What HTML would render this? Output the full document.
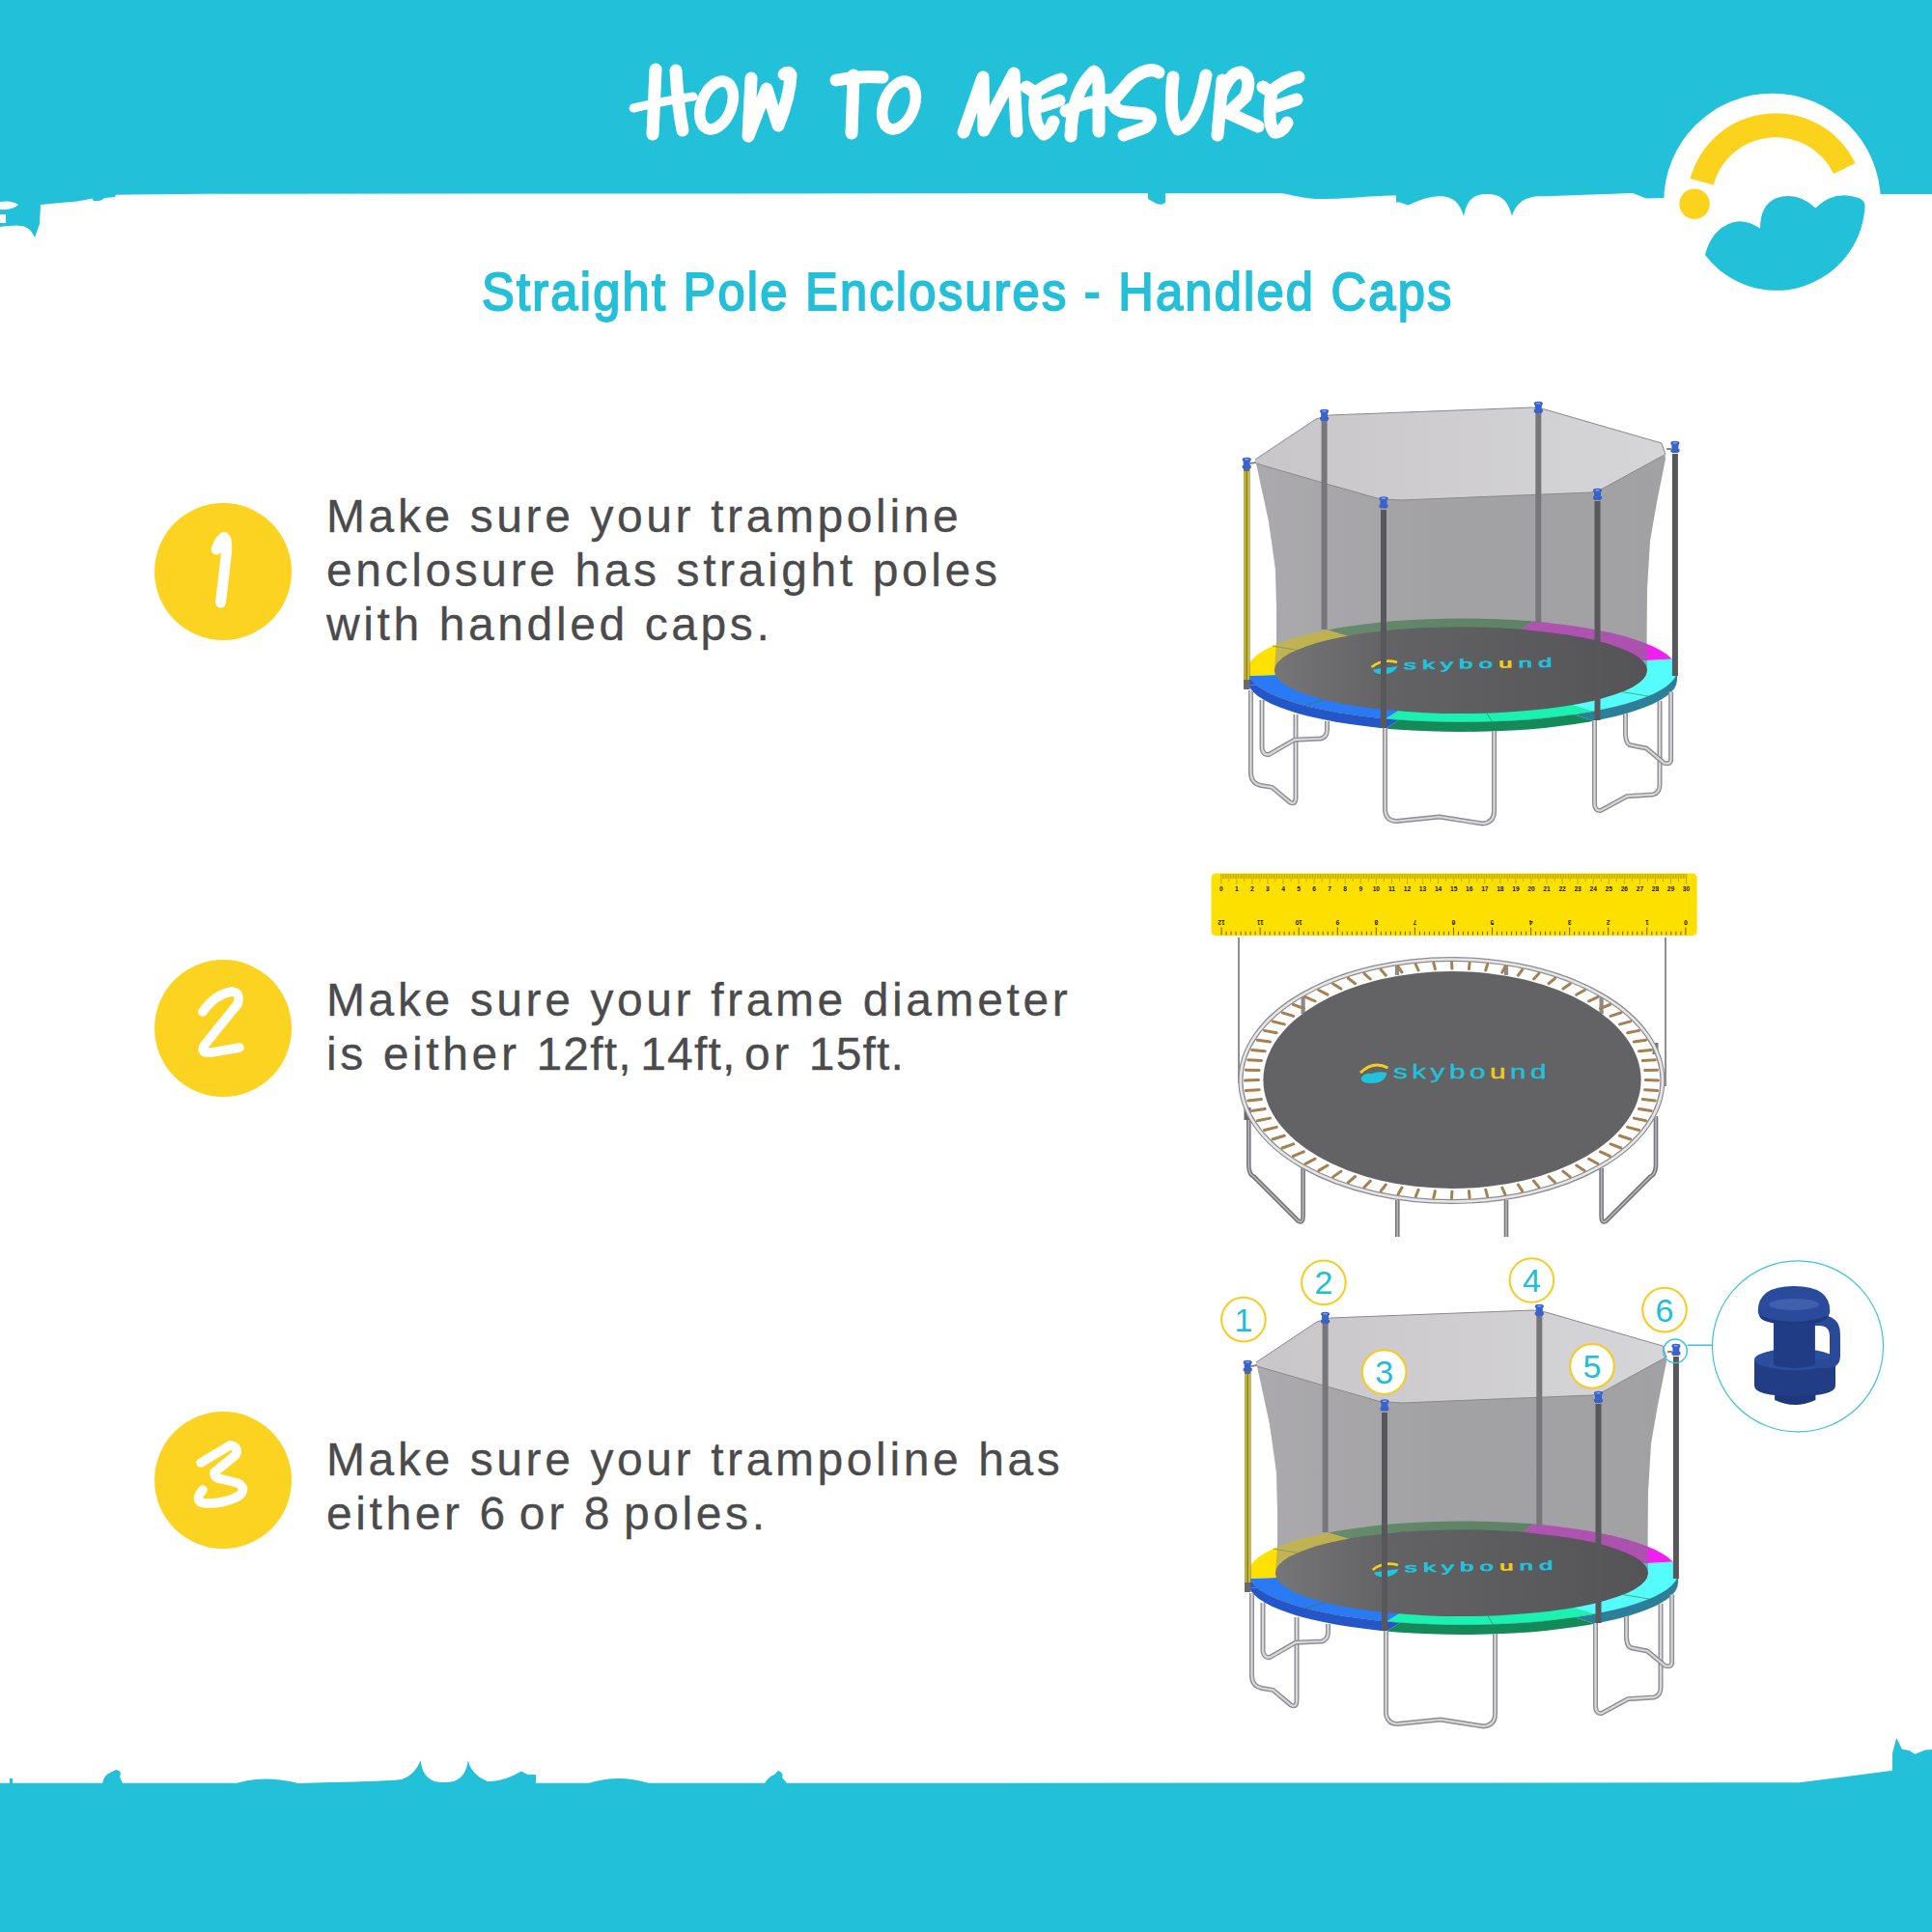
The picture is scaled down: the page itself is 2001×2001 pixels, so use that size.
<!DOCTYPE html>
<html><head><meta charset="utf-8">
<style>
html,body{margin:0;padding:0;}
body{width:2001px;height:2001px;position:relative;overflow:hidden;background:#fff;font-family:"Liberation Sans",sans-serif;}
.abs{position:absolute;}
#sub{left:498.6px;top:267px;font-size:55px;line-height:70px;color:#24BFD8;font-weight:normal;-webkit-text-stroke:1.9px #24BFD8;white-space:nowrap;letter-spacing:2.42px;transform:scaleX(0.92);transform-origin:0 0;}
.para{position:absolute;left:338px;letter-spacing:3.6px;-webkit-text-stroke:0.3px #4b4b4d;font-size:48px;line-height:56px;color:#4b4b4d;white-space:nowrap;}
.n{letter-spacing:1.2px}.w{letter-spacing:-5px}.d{letter-spacing:-2.4px}
.ycirc{position:absolute;left:160px;width:142px;height:142px;border-radius:50%;background:#FCD320;}
</style></head>
<body>
<svg class="abs" style="left:0;top:0" width="2001" height="2001" viewBox="0 0 2001 2001">
  <!-- top band -->
  <path fill="#23C1D9" d="M0 0H2001V201L1948 201L1723 205L1705 205.6L1691 200L1600 203.3C1580 202 1570 210 1566 224C1562 208 1555 201 1540 201C1525 201 1519 208 1516 224C1512 210 1505 203 1490 203.3C1475 204 1465 210 1458 212.6L1450 209.5L1446 209.5L1446 202.5C1410 203 1400 206 1370 206C1350 206 1340 202 1328 200.2L1207 200.2L1207 209Q1205 213 1198 211L1189 206L1189 200.2L215 200.7L138 201.5L120 201.8L119 204L108 205Q104 209 97 208Q95 206 96 205.5L80 208.5Q60 210 42 212L41 232Q38 240 36 246Q33 238 26 235Q20 232 0 235Z"/>
  <path fill="#fff" d="M0 209Q12 207 19 212Q13 218 0 217Z M0 222H6V231H0Z"/>
  <!-- bottom band -->
  <path fill="#23C1D9" d="M106 1847 Q108 1838 114 1836 L120 1833 Q127 1834 124 1840 L127 1847Z M792 1847 Q796 1840 802 1838 L806 1834 Q812 1836 810 1841 L815 1847Z M10 1847 V1842 H13 V1847Z M275 1847 Q277 1841 280 1844Z"/>
  <path fill="#23C1D9" d="M0 2001V1846.8L245 1846.8Q275 1838 309 1847L340 1846Q400 1845 416 1843Q430 1838 435.7 1823Q437 1840 450 1845Q460 1847 470 1845Q483 1840 484.7 1823Q488 1838 505 1845Q520 1846 540 1834.5L546 1837.8L555 1838L555 1846.8L610 1846.8Q640 1837 672 1846.8L1863 1846.3L1906.7 1840.8L1960 1833.8L1960 1815.8L1964.2 1800L1970 1811.7L1977.5 1812.9L1983.3 1816.7L1994 1812.5L2001 1812V2001Z"/>
</svg>
<svg class="abs" style="left:0;top:0" width="2001" height="240" viewBox="0 0 2001 240">
<g fill="none" stroke="#fff" stroke-width="13" stroke-linecap="round" stroke-linejoin="round">
 <path d="M679 72 L676 139"/>
 <path d="M700 73 Q702 110 707 135"/>
 <path d="M656 112 Q690 104 718 100" stroke-width="9"/>
 <ellipse cx="742" cy="109" rx="15.5" ry="26" stroke-width="11.5" transform="rotate(22 742 109)"/>
 <path d="M778 81 L775 141 L794 92 L806 130 Q818 100 819 78 Q817 73 812 77"/>
 <path d="M866 83 Q890 78 914 80"/>
 <path d="M884 78 L882 138"/>
 <ellipse cx="931" cy="109" rx="15.5" ry="26" stroke-width="11.5" transform="rotate(22 931 109)"/>
 <path d="M998 137 L1018 80 L1019 135 L1050 76 L1053 136"/>
 <path d="M1063 90 L1072 96 Q1088 85 1099 82"/>
 <path d="M1073 96 Q1068 128 1081 139 Q1087 137 1091 126"/>
 <path d="M1079 110 L1097 104"/>
 <path d="M1109 141 Q1110 95 1133 74 Q1138 76 1138 90 L1138 136"/>
 <path d="M1104 115 Q1125 104 1154 103"/>
 <path d="M1200 75 Q1190 68 1172 82 L1153 104 Q1153 115 1166 116 L1186 118 Q1197 122 1186 132 L1164 140"/>
 <path d="M1215 80 Q1210 120 1220 134 Q1240 130 1249 78"/>
 <path d="M1266 83 L1261 140"/>
 <path d="M1266 95 Q1275 74 1286 75 Q1297 80 1290 100 L1272 117 L1303 131"/>
 <path d="M1308 90 L1316 95 Q1332 82 1345 80"/>
 <path d="M1317 95 Q1312 128 1320 137 Q1328 137 1333 127"/>
 <path d="M1322 110 L1343 103"/>
</g>
</svg>
<div id="sub" class="abs">Straight Pole Enclosures - Handled Caps</div>

<div class="ycirc" style="top:521px"></div>
<div class="ycirc" style="top:994px"></div>
<div class="ycirc" style="top:1462px"></div>

<div class="para" style="top:506.5px">Make sure your trampoline<br>enclosure has straight poles<br>with handled caps.</div>
<div class="para" style="top:1007.7px">Make sure your frame diameter<br>is either <span class="n">12ft,</span><span class="w"> </span><span class="n">14ft,</span><span class="w"> </span>or <span class="n">15ft.</span></div>
<div class="para" style="top:1484px">Make sure your trampoline has<br>either <span class="d">6</span> or <span class="d">8</span> poles.</div>

<svg class="abs" style="left:0;top:0" width="2001" height="2001" viewBox="0 0 2001 2001">
<defs><linearGradient id="backg" x1="1300" y1="0" x2="1725" y2="0" gradientUnits="userSpaceOnUse"><stop offset="0" stop-color="#c8c6c9"/><stop offset="1" stop-color="#d6d5d7"/></linearGradient><clipPath id="ringclip"><path fill-rule="evenodd" d="M1737.0 694.2 L1736.3 698.5 L1734.3 702.7 L1730.9 706.8 L1726.1 710.9 L1720.1 714.8 L1712.7 718.7 L1704.2 722.3 L1694.5 725.8 L1683.7 729.2 L1671.8 732.3 L1659.0 735.1 L1645.3 737.7 L1630.8 740.1 L1615.5 742.1 L1599.6 743.9 L1583.3 745.4 L1566.4 746.5 L1549.3 747.3 L1532.0 747.8 L1514.5 748.0 L1497.0 747.8 L1479.7 747.3 L1462.6 746.5 L1445.7 745.4 L1429.4 743.9 L1413.5 742.1 L1398.2 740.1 L1383.7 737.7 L1370.0 735.1 L1357.2 732.3 L1345.3 729.2 L1334.5 725.8 L1324.8 722.3 L1316.3 718.7 L1308.9 714.8 L1302.9 710.9 L1298.1 706.8 L1294.7 702.7 L1292.7 698.5 L1292.0 694.2 L1292.7 690.0 L1294.7 685.8 L1298.1 681.7 L1302.9 677.6 L1308.9 673.7 L1316.3 669.8 L1324.8 666.2 L1334.5 662.7 L1345.3 659.3 L1357.2 656.2 L1370.0 653.4 L1383.7 650.8 L1398.2 648.4 L1413.5 646.4 L1429.4 644.6 L1445.7 643.1 L1462.6 642.0 L1479.7 641.2 L1497.0 640.7 L1514.5 640.5 L1532.0 640.7 L1549.3 641.2 L1566.4 642.0 L1583.3 643.1 L1599.6 644.6 L1615.5 646.4 L1630.8 648.4 L1645.3 650.8 L1659.0 653.4 L1671.8 656.2 L1683.7 659.3 L1694.5 662.7 L1704.2 666.2 L1712.7 669.8 L1720.1 673.7 L1726.1 677.6 L1730.9 681.7 L1734.3 685.8 L1736.3 690.0 L1737.0 694.2 Z M1706.0 694.2 L1705.4 697.8 L1703.6 701.3 L1700.7 704.7 L1696.6 708.1 L1691.3 711.4 L1685.0 714.6 L1677.6 717.6 L1669.1 720.6 L1659.8 723.3 L1649.5 725.9 L1638.3 728.3 L1626.4 730.5 L1613.8 732.4 L1600.6 734.1 L1586.9 735.6 L1572.6 736.8 L1558.1 737.8 L1543.2 738.4 L1528.1 738.9 L1513.0 739.0 L1497.9 738.9 L1482.8 738.4 L1467.9 737.8 L1453.4 736.8 L1439.1 735.6 L1425.4 734.1 L1412.2 732.4 L1399.6 730.5 L1387.7 728.3 L1376.5 725.9 L1366.2 723.3 L1356.9 720.6 L1348.4 717.6 L1341.0 714.6 L1334.7 711.4 L1329.4 708.1 L1325.3 704.7 L1322.4 701.3 L1320.6 697.8 L1320.0 694.2 L1320.6 690.7 L1322.4 687.2 L1325.3 683.8 L1329.4 680.4 L1334.7 677.1 L1341.0 673.9 L1348.4 670.9 L1356.9 667.9 L1366.2 665.2 L1376.5 662.6 L1387.7 660.2 L1399.6 658.0 L1412.2 656.1 L1425.4 654.4 L1439.1 652.9 L1453.4 651.7 L1467.9 650.7 L1482.8 650.1 L1497.9 649.6 L1513.0 649.5 L1528.1 649.6 L1543.2 650.1 L1558.1 650.7 L1572.6 651.7 L1586.9 652.9 L1600.6 654.4 L1613.8 656.1 L1626.4 658.0 L1638.3 660.2 L1649.5 662.6 L1659.8 665.2 L1669.1 667.9 L1677.6 670.9 L1685.0 673.9 L1691.3 677.1 L1696.6 680.4 L1700.7 683.8 L1703.6 687.2 L1705.4 690.7 L1706.0 694.2 Z"/></clipPath><clipPath id="sideclip"><polygon points="1737.0,694.2 1736.3,698.5 1734.3,702.7 1730.9,706.8 1726.1,710.9 1720.1,714.8 1712.7,718.7 1704.2,722.3 1694.5,725.8 1683.7,729.2 1671.8,732.3 1659.0,735.1 1645.3,737.7 1630.8,740.1 1615.5,742.1 1599.6,743.9 1583.3,745.4 1566.4,746.5 1549.3,747.3 1532.0,747.8 1514.5,748.0 1497.0,747.8 1479.7,747.3 1462.6,746.5 1445.7,745.4 1429.4,743.9 1413.5,742.1 1398.2,740.1 1383.7,737.7 1370.0,735.1 1357.2,732.3 1345.3,729.2 1334.5,725.8 1324.8,722.3 1316.3,718.7 1308.9,714.8 1302.9,710.9 1298.1,706.8 1294.7,702.7 1292.7,698.5 1292.0,694.2 1292.0,704.2 1292.7,708.5 1294.7,712.7 1298.1,716.8 1302.9,720.9 1308.9,724.8 1316.3,728.7 1324.8,732.3 1334.5,735.8 1345.3,739.2 1357.2,742.3 1370.0,745.1 1383.7,747.7 1398.2,750.1 1413.5,752.1 1429.4,753.9 1445.7,755.4 1462.6,756.5 1479.7,757.3 1497.0,757.8 1514.5,758.0 1532.0,757.8 1549.3,757.3 1566.4,756.5 1583.3,755.4 1599.6,753.9 1615.5,752.1 1630.8,750.1 1645.3,747.7 1659.0,745.1 1671.8,742.3 1683.7,739.2 1694.5,735.8 1704.2,732.3 1712.7,728.7 1720.1,724.8 1726.1,720.9 1730.9,716.8 1734.3,712.7 1736.3,708.5 1737.0,704.2"/></clipPath><linearGradient id="netg" x1="1300" y1="0" x2="1725" y2="0" gradientUnits="userSpaceOnUse"><stop offset="0" stop-color="#949397" stop-opacity="0.56"/><stop offset="0.45" stop-color="#807f83" stop-opacity="0.56"/><stop offset="1" stop-color="#78777b" stop-opacity="0.56"/></linearGradient><linearGradient id="matg" x1="1320" y1="0" x2="1706" y2="0" gradientUnits="userSpaceOnUse"><stop offset="0" stop-color="#767578"/><stop offset="0.3" stop-color="#636265"/><stop offset="1" stop-color="#545356"/></linearGradient></defs><g id="tramp"><polygon points="1300.0,476.0 1363.0,434.0 1377.0,430.0 1587.0,422.0 1600.0,424.0 1721.0,459.0 1725.0,471.0 1725.0,475.0 1716.0,520.0 1709.0,560.0 1706.0,610.0 1705.5,660.0 1706.0,694.0 1706.0,694.2 1705.4,690.7 1703.6,687.2 1700.7,683.8 1696.6,680.4 1691.3,677.1 1685.0,673.9 1677.6,670.9 1669.1,667.9 1659.8,665.2 1649.5,662.6 1638.3,660.2 1626.4,658.0 1613.8,656.1 1600.6,654.4 1586.9,652.9 1572.6,651.7 1558.1,650.7 1543.2,650.1 1528.1,649.6 1513.0,649.5 1497.9,649.6 1482.8,650.1 1467.9,650.7 1453.4,651.7 1439.1,652.9 1425.4,654.4 1412.2,656.1 1399.6,658.0 1387.7,660.2 1376.5,662.6 1366.2,665.2 1356.9,667.9 1348.4,670.9 1341.0,673.9 1334.7,677.1 1329.4,680.4 1325.3,683.8 1322.4,687.2 1320.6,690.7 1320.0,694.2 1320.0,694.0 1322.0,664.0 1322.0,627.0 1321.0,590.0 1314.0,540.0 1301.0,480.0" fill="url(#backg)"/>
<polygon clip-path="url(#ringclip)" points="1514.5,694.2 2166.2,659.3 2176.9,674.3 2181.7,689.4 2180.6,704.6 2173.7,719.7 2160.9,734.5 2142.3,749.0 2118.3,763.0 2088.8,776.4 2054.3,789.1 2015.1,800.9 1971.4,811.8 1923.6,821.7" fill="#55fcfc"/>
<polygon clip-path="url(#sideclip)" points="1514.5,704.2 2166.2,669.3 2176.9,684.3 2181.7,699.4 2180.6,714.6 2173.7,729.7 2160.9,744.5 2142.3,759.0 2118.3,773.0 2088.8,786.4 2054.3,799.1 2015.1,810.9 1971.4,821.8 1923.6,831.7" fill="#2b7f99"/>
<polygon clip-path="url(#ringclip)" points="1514.5,694.2 1923.6,821.7 1877.2,829.6 1828.0,836.6 1776.7,842.5 1723.4,847.4 1668.5,851.1 1612.6,853.7 1555.9,855.2 1499.0,855.5 1442.1,854.5 1385.8,852.5 1330.4,849.2 1276.4,844.9" fill="#19f2b0"/>
<polygon clip-path="url(#sideclip)" points="1514.5,704.2 1923.6,831.7 1877.2,839.6 1828.0,846.6 1776.7,852.5 1723.4,857.4 1668.5,861.1 1612.6,863.7 1555.9,865.2 1499.0,865.5 1442.1,864.5 1385.8,862.5 1330.4,859.2 1276.4,854.9" fill="#138a58"/>
<polygon clip-path="url(#ringclip)" points="1514.5,694.2 1276.4,844.9 1220.2,839.0 1166.6,831.9 1115.8,823.6 1068.4,814.2 1024.8,803.8 985.3,792.5 950.2,780.4 919.9,767.5 894.6,754.1 874.5,740.1 859.8,725.7 850.7,711.1" fill="#2a7af5"/>
<polygon clip-path="url(#sideclip)" points="1514.5,704.2 1276.4,854.9 1220.2,849.0 1166.6,841.9 1115.8,833.6 1068.4,824.2 1024.8,813.8 985.3,802.5 950.2,790.4 919.9,777.5 894.6,764.1 874.5,750.1 859.8,735.7 850.7,721.1" fill="#2456c8"/>
<polygon clip-path="url(#ringclip)" points="1514.5,694.2 850.7,711.1 847.2,697.7 848.3,684.3 854.0,671.0 864.3,657.8 879.1,644.9 898.3,632.3 921.7,620.1 949.3,608.5 980.7,597.4 1015.9,587.1 1054.5,577.4 1096.2,568.6" fill="#ffe100"/>
<polygon clip-path="url(#sideclip)" points="1514.5,704.2 850.7,721.1 847.2,707.7 848.3,694.3 854.0,681.0 864.3,667.8 879.1,654.9 898.3,642.3 921.7,630.1 949.3,618.5 980.7,607.4 1015.9,597.1 1054.5,587.4 1096.2,578.6" fill="#2456c8"/>
<polygon clip-path="url(#ringclip)" points="1514.5,694.2 1096.2,568.6 1141.6,560.5 1189.7,553.4 1240.1,547.3 1292.4,542.2 1346.3,538.2 1401.5,535.3 1457.4,533.6 1513.7,533.0 1570.1,533.6 1626.0,535.3 1681.2,538.1 1735.1,542.1" fill="#3a8a45"/>
<polygon clip-path="url(#sideclip)" points="1514.5,704.2 1096.2,578.6 1141.6,570.5 1189.7,563.4 1240.1,557.3 1292.4,552.2 1346.3,548.2 1401.5,545.3 1457.4,543.6 1513.7,543.0 1570.1,543.6 1626.0,545.3 1681.2,548.1 1735.1,552.1" fill="#2a6a35"/>
<polygon clip-path="url(#ringclip)" points="1514.5,694.2 1735.1,542.1 1787.6,547.1 1838.1,553.2 1886.3,560.3 1931.8,568.4 1974.4,577.4 2013.7,587.2 2049.3,597.8 2081.2,609.0 2109.0,620.9 2132.5,633.3 2151.6,646.2 2166.2,659.3" fill="#f020f0"/>
<polygon clip-path="url(#sideclip)" points="1514.5,704.2 1735.1,552.1 1787.6,557.1 1838.1,563.2 1886.3,570.3 1931.8,578.4 1974.4,587.4 2013.7,597.2 2049.3,607.8 2081.2,619.0 2109.0,630.9 2132.5,643.3 2151.6,656.2 2166.2,669.3" fill="#a010a0"/>
<line x1="1351.0" y1="730.7" x2="1371.2" y2="724.6" stroke="#3a7a3a" stroke-width="1" opacity="0.6"/>
<line x1="1545.5" y1="747.5" x2="1539.9" y2="738.6" stroke="#3a7a3a" stroke-width="1" opacity="0.6"/>
<line x1="1707.2" y1="721.1" x2="1680.1" y2="716.6" stroke="#3a7a3a" stroke-width="1" opacity="0.6"/>
<line x1="1669.1" y1="655.6" x2="1647.1" y2="662.1" stroke="#3a7a3a" stroke-width="1" opacity="0.6"/>
<line x1="1318.0" y1="669.0" x2="1342.6" y2="673.2" stroke="#3a7a3a" stroke-width="1" opacity="0.6"/>
<path d="M1737.0 694.2 L1736.3 698.5 L1734.3 702.7 L1730.9 706.8 L1726.1 710.9 L1720.1 714.8 L1712.7 718.7 L1704.2 722.3 L1694.5 725.8 L1683.7 729.2 L1671.8 732.3 L1659.0 735.1 L1645.3 737.7 L1630.8 740.1 L1615.5 742.1 L1599.6 743.9 L1583.3 745.4 L1566.4 746.5 L1549.3 747.3 L1532.0 747.8 L1514.5 748.0 L1497.0 747.8 L1479.7 747.3 L1462.6 746.5 L1445.7 745.4 L1429.4 743.9 L1413.5 742.1 L1398.2 740.1 L1383.7 737.7 L1370.0 735.1 L1357.2 732.3 L1345.3 729.2 L1334.5 725.8 L1324.8 722.3 L1316.3 718.7 L1308.9 714.8 L1302.9 710.9 L1298.1 706.8 L1294.7 702.7 L1292.7 698.5 L1292.0 694.2" fill="none" stroke="#1a5a6a" stroke-width="0.8" opacity="0.35"/>
<polygon points="1301.0,480.0 1370.0,500.0 1428.0,516.5 1451.0,518.0 1648.0,510.0 1660.0,506.0 1724.0,471.0 1725.0,475.0 1716.0,520.0 1709.0,560.0 1706.0,610.0 1705.5,660.0 1706.0,694.0 1706.0,694.2 1705.4,690.7 1703.6,687.2 1700.7,683.8 1696.6,680.4 1691.3,677.1 1685.0,673.9 1677.6,670.9 1669.1,667.9 1659.8,665.2 1649.5,662.6 1638.3,660.2 1626.4,658.0 1613.8,656.1 1600.6,654.4 1586.9,652.9 1572.6,651.7 1558.1,650.7 1543.2,650.1 1528.1,649.6 1513.0,649.5 1497.9,649.6 1482.8,650.1 1467.9,650.7 1453.4,651.7 1439.1,652.9 1425.4,654.4 1412.2,656.1 1399.6,658.0 1387.7,660.2 1376.5,662.6 1366.2,665.2 1356.9,667.9 1348.4,670.9 1341.0,673.9 1334.7,677.1 1329.4,680.4 1325.3,683.8 1322.4,687.2 1320.6,690.7 1320.0,694.2 1320.0,694.0 1322.0,664.0 1322.0,627.0 1321.0,590.0 1314.0,540.0 1301.0,480.0" fill="url(#netg)"/>
<polyline points="1300.0,476.0 1363.0,434.0 1377.0,430.0 1587.0,422.0 1600.0,424.0 1721.0,459.0 1725.0,471.0" fill="none" stroke="#8a898c" stroke-width="1"/>
<polyline points="1724.0,471.0 1660.0,506.0 1648.0,510.0 1451.0,518.0 1428.0,516.5 1370.0,500.0 1301.0,480.0" fill="none" stroke="#8a898c" stroke-width="1"/>
<ellipse cx="1513" cy="694.25" rx="193" ry="44.75" fill="url(#matg)"/>
<g transform="translate(1419 683) rotate(-1)"><path d="M1.5 8 Q13 -1 28 3.5" fill="none" stroke="#f2cf1e" stroke-width="2.8"/><path d="M3 10.5 Q14 9 28.5 7.5 Q25 15.5 13 15.5 Q4 15.5 3 10.5Z" fill="#1fc3dc"/><text x="23.3" y="14" font-family="Liberation Sans" font-weight="normal" font-size="17" fill="#1fc3dc" stroke="#1fc3dc" stroke-width="0.9" letter-spacing="4.2" transform="scale(1.5 0.78)">skybo<tspan fill="#f0cc20" stroke="#f0cc20">u</tspan>nd</text></g>
<path d="M1295.5 715 V801 Q1296 811.5 1306 813.5 L1317.5 815.4 L1336 831 Q1342 834 1342 826 V740" fill="none" stroke="#8e8d92" stroke-width="5" stroke-linejoin="round"/>
<path d="M1295.5 715 V801 Q1296 811.5 1306 813.5 L1317.5 815.4 L1336 831 Q1342 834 1342 826 V740" fill="none" stroke="#d8d8dc" stroke-width="2.2" stroke-linejoin="round"/>
<path d="M1307 725 V775 Q1308 782 1314 781.7 L1340.8 766.2 L1368 765 Q1374.5 763 1374.5 756 V747" fill="none" stroke="#8e8d92" stroke-width="5" stroke-linejoin="round"/>
<path d="M1307 725 V775 Q1308 782 1314 781.7 L1340.8 766.2 L1368 765 Q1374.5 763 1374.5 756 V747" fill="none" stroke="#d8d8dc" stroke-width="2.2" stroke-linejoin="round"/>
<path d="M1434.5 754 V840 Q1436 850.5 1446.5 850.5 L1490.8 846 L1535.5 853 Q1547.5 852 1547.5 840 V757" fill="none" stroke="#8e8d92" stroke-width="5" stroke-linejoin="round"/>
<path d="M1434.5 754 V840 Q1436 850.5 1446.5 850.5 L1490.8 846 L1535.5 853 Q1547.5 852 1547.5 840 V757" fill="none" stroke="#d8d8dc" stroke-width="2.2" stroke-linejoin="round"/>
<path d="M1651.5 746 V832.6 Q1652 840 1657.6 839.6 L1684.9 824.7 L1712.1 822.9 Q1719 821 1719 813 V726" fill="none" stroke="#8e8d92" stroke-width="5" stroke-linejoin="round"/>
<path d="M1651.5 746 V832.6 Q1652 840 1657.6 839.6 L1684.9 824.7 L1712.1 822.9 Q1719 821 1719 813 V726" fill="none" stroke="#d8d8dc" stroke-width="2.2" stroke-linejoin="round"/>
<path d="M1683.5 739 V760.4 Q1684 771.9 1690 772 L1705.1 775 L1723.6 790.4 Q1730.6 792 1730.6 786.8 V716.4" fill="none" stroke="#8e8d92" stroke-width="5" stroke-linejoin="round"/>
<path d="M1683.5 739 V760.4 Q1684 771.9 1690 772 L1705.1 775 L1723.6 790.4 Q1730.6 792 1730.6 786.8 V716.4" fill="none" stroke="#d8d8dc" stroke-width="2.2" stroke-linejoin="round"/>
<rect x="1368.6" y="436.0" width="6.0" height="216.0" fill="#77767a"/>
<rect x="1590.3" y="428.0" width="6.0" height="217.0" fill="#77767a"/>
<g fill="#3a63c9"><ellipse cx="1371.6" cy="426.0" rx="4.6" ry="2.2"/><rect x="1368.1" y="426.0" width="7" height="10"/><rect x="1367.1" y="432.0" width="9" height="3"/></g><rect x="1369.6" y="425.0" width="4" height="1.5" fill="#7fa0ff"/>
<g fill="#3a63c9"><ellipse cx="1593.3" cy="418.0" rx="4.6" ry="2.2"/><rect x="1589.8" y="418.0" width="7" height="10"/><rect x="1588.8" y="424.0" width="9" height="3"/></g><rect x="1591.3" y="417.0" width="4" height="1.5" fill="#7fa0ff"/>
<rect x="1288.0" y="486.0" width="6.5" height="228.0" fill="#6a6a6a"/>
<rect x="1288.2" y="488" width="6" height="216" fill="#c9b93e"/>
<rect x="1290.5" y="488" width="1.4" height="216" fill="#8a7d20"/>
<g fill="#3a63c9"><ellipse cx="1291.2" cy="476.0" rx="4.6" ry="2.2"/><rect x="1287.7" y="476.0" width="7" height="10"/><rect x="1286.7" y="482.0" width="9" height="3"/></g><rect x="1289.2" y="475.0" width="4" height="1.5" fill="#7fa0ff"/>
<line x1="1295" y1="480" x2="1301" y2="479" stroke="#888" stroke-width="2"/>
<rect x="1430.0" y="528.0" width="6.0" height="226.0" fill="#58575b"/>
<rect x="1651.5" y="519.0" width="6.0" height="227.0" fill="#58575b"/>
<rect x="1731.9" y="470.0" width="6.0" height="230.0" fill="#58575b"/>
<g fill="#3a63c9"><ellipse cx="1433.0" cy="516.5" rx="4.6" ry="2.2"/><rect x="1429.5" y="516.5" width="7" height="10"/><rect x="1428.5" y="522.5" width="9" height="3"/></g><rect x="1431.0" y="515.5" width="4" height="1.5" fill="#7fa0ff"/>
<g fill="#3a63c9"><ellipse cx="1654.5" cy="508.0" rx="4.6" ry="2.2"/><rect x="1651.0" y="508.0" width="7" height="10"/><rect x="1650.0" y="514.0" width="9" height="3"/></g><rect x="1652.5" y="507.0" width="4" height="1.5" fill="#7fa0ff"/>
<g fill="#3a63c9"><ellipse cx="1734.9" cy="459.0" rx="4.6" ry="2.2"/><rect x="1731.4" y="459.0" width="7" height="10"/><rect x="1730.4" y="465.0" width="9" height="3"/></g><rect x="1732.9" y="458.0" width="4" height="1.5" fill="#7fa0ff"/>
<line x1="1726" y1="465" x2="1731" y2="465" stroke="#888" stroke-width="2"/></g>
<g transform="translate(1 935)"><polygon points="1300.0,476.0 1363.0,434.0 1377.0,430.0 1587.0,422.0 1600.0,424.0 1721.0,459.0 1725.0,471.0 1725.0,475.0 1716.0,520.0 1709.0,560.0 1706.0,610.0 1705.5,660.0 1706.0,694.0 1706.0,694.2 1705.4,690.7 1703.6,687.2 1700.7,683.8 1696.6,680.4 1691.3,677.1 1685.0,673.9 1677.6,670.9 1669.1,667.9 1659.8,665.2 1649.5,662.6 1638.3,660.2 1626.4,658.0 1613.8,656.1 1600.6,654.4 1586.9,652.9 1572.6,651.7 1558.1,650.7 1543.2,650.1 1528.1,649.6 1513.0,649.5 1497.9,649.6 1482.8,650.1 1467.9,650.7 1453.4,651.7 1439.1,652.9 1425.4,654.4 1412.2,656.1 1399.6,658.0 1387.7,660.2 1376.5,662.6 1366.2,665.2 1356.9,667.9 1348.4,670.9 1341.0,673.9 1334.7,677.1 1329.4,680.4 1325.3,683.8 1322.4,687.2 1320.6,690.7 1320.0,694.2 1320.0,694.0 1322.0,664.0 1322.0,627.0 1321.0,590.0 1314.0,540.0 1301.0,480.0" fill="url(#backg)"/>
<polygon clip-path="url(#ringclip)" points="1514.5,694.2 2166.2,659.3 2176.9,674.3 2181.7,689.4 2180.6,704.6 2173.7,719.7 2160.9,734.5 2142.3,749.0 2118.3,763.0 2088.8,776.4 2054.3,789.1 2015.1,800.9 1971.4,811.8 1923.6,821.7" fill="#55fcfc"/>
<polygon clip-path="url(#sideclip)" points="1514.5,704.2 2166.2,669.3 2176.9,684.3 2181.7,699.4 2180.6,714.6 2173.7,729.7 2160.9,744.5 2142.3,759.0 2118.3,773.0 2088.8,786.4 2054.3,799.1 2015.1,810.9 1971.4,821.8 1923.6,831.7" fill="#2b7f99"/>
<polygon clip-path="url(#ringclip)" points="1514.5,694.2 1923.6,821.7 1877.2,829.6 1828.0,836.6 1776.7,842.5 1723.4,847.4 1668.5,851.1 1612.6,853.7 1555.9,855.2 1499.0,855.5 1442.1,854.5 1385.8,852.5 1330.4,849.2 1276.4,844.9" fill="#19f2b0"/>
<polygon clip-path="url(#sideclip)" points="1514.5,704.2 1923.6,831.7 1877.2,839.6 1828.0,846.6 1776.7,852.5 1723.4,857.4 1668.5,861.1 1612.6,863.7 1555.9,865.2 1499.0,865.5 1442.1,864.5 1385.8,862.5 1330.4,859.2 1276.4,854.9" fill="#138a58"/>
<polygon clip-path="url(#ringclip)" points="1514.5,694.2 1276.4,844.9 1220.2,839.0 1166.6,831.9 1115.8,823.6 1068.4,814.2 1024.8,803.8 985.3,792.5 950.2,780.4 919.9,767.5 894.6,754.1 874.5,740.1 859.8,725.7 850.7,711.1" fill="#2a7af5"/>
<polygon clip-path="url(#sideclip)" points="1514.5,704.2 1276.4,854.9 1220.2,849.0 1166.6,841.9 1115.8,833.6 1068.4,824.2 1024.8,813.8 985.3,802.5 950.2,790.4 919.9,777.5 894.6,764.1 874.5,750.1 859.8,735.7 850.7,721.1" fill="#2456c8"/>
<polygon clip-path="url(#ringclip)" points="1514.5,694.2 850.7,711.1 847.2,697.7 848.3,684.3 854.0,671.0 864.3,657.8 879.1,644.9 898.3,632.3 921.7,620.1 949.3,608.5 980.7,597.4 1015.9,587.1 1054.5,577.4 1096.2,568.6" fill="#ffe100"/>
<polygon clip-path="url(#sideclip)" points="1514.5,704.2 850.7,721.1 847.2,707.7 848.3,694.3 854.0,681.0 864.3,667.8 879.1,654.9 898.3,642.3 921.7,630.1 949.3,618.5 980.7,607.4 1015.9,597.1 1054.5,587.4 1096.2,578.6" fill="#2456c8"/>
<polygon clip-path="url(#ringclip)" points="1514.5,694.2 1096.2,568.6 1141.6,560.5 1189.7,553.4 1240.1,547.3 1292.4,542.2 1346.3,538.2 1401.5,535.3 1457.4,533.6 1513.7,533.0 1570.1,533.6 1626.0,535.3 1681.2,538.1 1735.1,542.1" fill="#3a8a45"/>
<polygon clip-path="url(#sideclip)" points="1514.5,704.2 1096.2,578.6 1141.6,570.5 1189.7,563.4 1240.1,557.3 1292.4,552.2 1346.3,548.2 1401.5,545.3 1457.4,543.6 1513.7,543.0 1570.1,543.6 1626.0,545.3 1681.2,548.1 1735.1,552.1" fill="#2a6a35"/>
<polygon clip-path="url(#ringclip)" points="1514.5,694.2 1735.1,542.1 1787.6,547.1 1838.1,553.2 1886.3,560.3 1931.8,568.4 1974.4,577.4 2013.7,587.2 2049.3,597.8 2081.2,609.0 2109.0,620.9 2132.5,633.3 2151.6,646.2 2166.2,659.3" fill="#f020f0"/>
<polygon clip-path="url(#sideclip)" points="1514.5,704.2 1735.1,552.1 1787.6,557.1 1838.1,563.2 1886.3,570.3 1931.8,578.4 1974.4,587.4 2013.7,597.2 2049.3,607.8 2081.2,619.0 2109.0,630.9 2132.5,643.3 2151.6,656.2 2166.2,669.3" fill="#a010a0"/>
<line x1="1351.0" y1="730.7" x2="1371.2" y2="724.6" stroke="#3a7a3a" stroke-width="1" opacity="0.6"/>
<line x1="1545.5" y1="747.5" x2="1539.9" y2="738.6" stroke="#3a7a3a" stroke-width="1" opacity="0.6"/>
<line x1="1707.2" y1="721.1" x2="1680.1" y2="716.6" stroke="#3a7a3a" stroke-width="1" opacity="0.6"/>
<line x1="1669.1" y1="655.6" x2="1647.1" y2="662.1" stroke="#3a7a3a" stroke-width="1" opacity="0.6"/>
<line x1="1318.0" y1="669.0" x2="1342.6" y2="673.2" stroke="#3a7a3a" stroke-width="1" opacity="0.6"/>
<path d="M1737.0 694.2 L1736.3 698.5 L1734.3 702.7 L1730.9 706.8 L1726.1 710.9 L1720.1 714.8 L1712.7 718.7 L1704.2 722.3 L1694.5 725.8 L1683.7 729.2 L1671.8 732.3 L1659.0 735.1 L1645.3 737.7 L1630.8 740.1 L1615.5 742.1 L1599.6 743.9 L1583.3 745.4 L1566.4 746.5 L1549.3 747.3 L1532.0 747.8 L1514.5 748.0 L1497.0 747.8 L1479.7 747.3 L1462.6 746.5 L1445.7 745.4 L1429.4 743.9 L1413.5 742.1 L1398.2 740.1 L1383.7 737.7 L1370.0 735.1 L1357.2 732.3 L1345.3 729.2 L1334.5 725.8 L1324.8 722.3 L1316.3 718.7 L1308.9 714.8 L1302.9 710.9 L1298.1 706.8 L1294.7 702.7 L1292.7 698.5 L1292.0 694.2" fill="none" stroke="#1a5a6a" stroke-width="0.8" opacity="0.35"/>
<polygon points="1301.0,480.0 1370.0,500.0 1428.0,516.5 1451.0,518.0 1648.0,510.0 1660.0,506.0 1724.0,471.0 1725.0,475.0 1716.0,520.0 1709.0,560.0 1706.0,610.0 1705.5,660.0 1706.0,694.0 1706.0,694.2 1705.4,690.7 1703.6,687.2 1700.7,683.8 1696.6,680.4 1691.3,677.1 1685.0,673.9 1677.6,670.9 1669.1,667.9 1659.8,665.2 1649.5,662.6 1638.3,660.2 1626.4,658.0 1613.8,656.1 1600.6,654.4 1586.9,652.9 1572.6,651.7 1558.1,650.7 1543.2,650.1 1528.1,649.6 1513.0,649.5 1497.9,649.6 1482.8,650.1 1467.9,650.7 1453.4,651.7 1439.1,652.9 1425.4,654.4 1412.2,656.1 1399.6,658.0 1387.7,660.2 1376.5,662.6 1366.2,665.2 1356.9,667.9 1348.4,670.9 1341.0,673.9 1334.7,677.1 1329.4,680.4 1325.3,683.8 1322.4,687.2 1320.6,690.7 1320.0,694.2 1320.0,694.0 1322.0,664.0 1322.0,627.0 1321.0,590.0 1314.0,540.0 1301.0,480.0" fill="url(#netg)"/>
<polyline points="1300.0,476.0 1363.0,434.0 1377.0,430.0 1587.0,422.0 1600.0,424.0 1721.0,459.0 1725.0,471.0" fill="none" stroke="#8a898c" stroke-width="1"/>
<polyline points="1724.0,471.0 1660.0,506.0 1648.0,510.0 1451.0,518.0 1428.0,516.5 1370.0,500.0 1301.0,480.0" fill="none" stroke="#8a898c" stroke-width="1"/>
<ellipse cx="1513" cy="694.25" rx="193" ry="44.75" fill="url(#matg)"/>
<g transform="translate(1419 683) rotate(-1)"><path d="M1.5 8 Q13 -1 28 3.5" fill="none" stroke="#f2cf1e" stroke-width="2.8"/><path d="M3 10.5 Q14 9 28.5 7.5 Q25 15.5 13 15.5 Q4 15.5 3 10.5Z" fill="#1fc3dc"/><text x="23.3" y="14" font-family="Liberation Sans" font-weight="normal" font-size="17" fill="#1fc3dc" stroke="#1fc3dc" stroke-width="0.9" letter-spacing="4.2" transform="scale(1.5 0.78)">skybo<tspan fill="#f0cc20" stroke="#f0cc20">u</tspan>nd</text></g>
<path d="M1295.5 715 V801 Q1296 811.5 1306 813.5 L1317.5 815.4 L1336 831 Q1342 834 1342 826 V740" fill="none" stroke="#8e8d92" stroke-width="5" stroke-linejoin="round"/>
<path d="M1295.5 715 V801 Q1296 811.5 1306 813.5 L1317.5 815.4 L1336 831 Q1342 834 1342 826 V740" fill="none" stroke="#d8d8dc" stroke-width="2.2" stroke-linejoin="round"/>
<path d="M1307 725 V775 Q1308 782 1314 781.7 L1340.8 766.2 L1368 765 Q1374.5 763 1374.5 756 V747" fill="none" stroke="#8e8d92" stroke-width="5" stroke-linejoin="round"/>
<path d="M1307 725 V775 Q1308 782 1314 781.7 L1340.8 766.2 L1368 765 Q1374.5 763 1374.5 756 V747" fill="none" stroke="#d8d8dc" stroke-width="2.2" stroke-linejoin="round"/>
<path d="M1434.5 754 V840 Q1436 850.5 1446.5 850.5 L1490.8 846 L1535.5 853 Q1547.5 852 1547.5 840 V757" fill="none" stroke="#8e8d92" stroke-width="5" stroke-linejoin="round"/>
<path d="M1434.5 754 V840 Q1436 850.5 1446.5 850.5 L1490.8 846 L1535.5 853 Q1547.5 852 1547.5 840 V757" fill="none" stroke="#d8d8dc" stroke-width="2.2" stroke-linejoin="round"/>
<path d="M1651.5 746 V832.6 Q1652 840 1657.6 839.6 L1684.9 824.7 L1712.1 822.9 Q1719 821 1719 813 V726" fill="none" stroke="#8e8d92" stroke-width="5" stroke-linejoin="round"/>
<path d="M1651.5 746 V832.6 Q1652 840 1657.6 839.6 L1684.9 824.7 L1712.1 822.9 Q1719 821 1719 813 V726" fill="none" stroke="#d8d8dc" stroke-width="2.2" stroke-linejoin="round"/>
<path d="M1683.5 739 V760.4 Q1684 771.9 1690 772 L1705.1 775 L1723.6 790.4 Q1730.6 792 1730.6 786.8 V716.4" fill="none" stroke="#8e8d92" stroke-width="5" stroke-linejoin="round"/>
<path d="M1683.5 739 V760.4 Q1684 771.9 1690 772 L1705.1 775 L1723.6 790.4 Q1730.6 792 1730.6 786.8 V716.4" fill="none" stroke="#d8d8dc" stroke-width="2.2" stroke-linejoin="round"/>
<rect x="1368.6" y="436.0" width="6.0" height="216.0" fill="#77767a"/>
<rect x="1590.3" y="428.0" width="6.0" height="217.0" fill="#77767a"/>
<g fill="#3a63c9"><ellipse cx="1371.6" cy="426.0" rx="4.6" ry="2.2"/><rect x="1368.1" y="426.0" width="7" height="10"/><rect x="1367.1" y="432.0" width="9" height="3"/></g><rect x="1369.6" y="425.0" width="4" height="1.5" fill="#7fa0ff"/>
<g fill="#3a63c9"><ellipse cx="1593.3" cy="418.0" rx="4.6" ry="2.2"/><rect x="1589.8" y="418.0" width="7" height="10"/><rect x="1588.8" y="424.0" width="9" height="3"/></g><rect x="1591.3" y="417.0" width="4" height="1.5" fill="#7fa0ff"/>
<rect x="1288.0" y="486.0" width="6.5" height="228.0" fill="#6a6a6a"/>
<rect x="1288.2" y="488" width="6" height="216" fill="#c9b93e"/>
<rect x="1290.5" y="488" width="1.4" height="216" fill="#8a7d20"/>
<g fill="#3a63c9"><ellipse cx="1291.2" cy="476.0" rx="4.6" ry="2.2"/><rect x="1287.7" y="476.0" width="7" height="10"/><rect x="1286.7" y="482.0" width="9" height="3"/></g><rect x="1289.2" y="475.0" width="4" height="1.5" fill="#7fa0ff"/>
<line x1="1295" y1="480" x2="1301" y2="479" stroke="#888" stroke-width="2"/>
<rect x="1430.0" y="528.0" width="6.0" height="226.0" fill="#58575b"/>
<rect x="1651.5" y="519.0" width="6.0" height="227.0" fill="#58575b"/>
<rect x="1731.9" y="470.0" width="6.0" height="230.0" fill="#58575b"/>
<g fill="#3a63c9"><ellipse cx="1433.0" cy="516.5" rx="4.6" ry="2.2"/><rect x="1429.5" y="516.5" width="7" height="10"/><rect x="1428.5" y="522.5" width="9" height="3"/></g><rect x="1431.0" y="515.5" width="4" height="1.5" fill="#7fa0ff"/>
<g fill="#3a63c9"><ellipse cx="1654.5" cy="508.0" rx="4.6" ry="2.2"/><rect x="1651.0" y="508.0" width="7" height="10"/><rect x="1650.0" y="514.0" width="9" height="3"/></g><rect x="1652.5" y="507.0" width="4" height="1.5" fill="#7fa0ff"/>
<g fill="#3a63c9"><ellipse cx="1734.9" cy="459.0" rx="4.6" ry="2.2"/><rect x="1731.4" y="459.0" width="7" height="10"/><rect x="1730.4" y="465.0" width="9" height="3"/></g><rect x="1732.9" y="458.0" width="4" height="1.5" fill="#7fa0ff"/>
<line x1="1726" y1="465" x2="1731" y2="465" stroke="#888" stroke-width="2"/></g>
<rect x="1254.5" y="904.6" width="503.1" height="64.4" rx="4.5" fill="#fde000"/>
<path d="M1264.75 905.1V915.6M1266.36 905.1V910.1M1267.96 905.1V910.1M1269.57 905.1V910.1M1271.17 905.1V910.1M1272.78 905.1V913.1M1274.39 905.1V910.1M1275.99 905.1V910.1M1277.60 905.1V910.1M1279.20 905.1V910.1M1280.81 905.1V915.6M1282.42 905.1V910.1M1284.02 905.1V910.1M1285.63 905.1V910.1M1287.23 905.1V910.1M1288.84 905.1V913.1M1290.45 905.1V910.1M1292.05 905.1V910.1M1293.66 905.1V910.1M1295.26 905.1V910.1M1296.87 905.1V915.6M1298.48 905.1V910.1M1300.08 905.1V910.1M1301.69 905.1V910.1M1303.29 905.1V910.1M1304.90 905.1V913.1M1306.51 905.1V910.1M1308.11 905.1V910.1M1309.72 905.1V910.1M1311.32 905.1V910.1M1312.93 905.1V915.6M1314.54 905.1V910.1M1316.14 905.1V910.1M1317.75 905.1V910.1M1319.35 905.1V910.1M1320.96 905.1V913.1M1322.57 905.1V910.1M1324.17 905.1V910.1M1325.78 905.1V910.1M1327.38 905.1V910.1M1328.99 905.1V915.6M1330.60 905.1V910.1M1332.20 905.1V910.1M1333.81 905.1V910.1M1335.41 905.1V910.1M1337.02 905.1V913.1M1338.63 905.1V910.1M1340.23 905.1V910.1M1341.84 905.1V910.1M1343.44 905.1V910.1M1345.05 905.1V915.6M1346.66 905.1V910.1M1348.26 905.1V910.1M1349.87 905.1V910.1M1351.47 905.1V910.1M1353.08 905.1V913.1M1354.69 905.1V910.1M1356.29 905.1V910.1M1357.90 905.1V910.1M1359.50 905.1V910.1M1361.11 905.1V915.6M1362.72 905.1V910.1M1364.32 905.1V910.1M1365.93 905.1V910.1M1367.53 905.1V910.1M1369.14 905.1V913.1M1370.75 905.1V910.1M1372.35 905.1V910.1M1373.96 905.1V910.1M1375.56 905.1V910.1M1377.17 905.1V915.6M1378.78 905.1V910.1M1380.38 905.1V910.1M1381.99 905.1V910.1M1383.59 905.1V910.1M1385.20 905.1V913.1M1386.81 905.1V910.1M1388.41 905.1V910.1M1390.02 905.1V910.1M1391.62 905.1V910.1M1393.23 905.1V915.6M1394.84 905.1V910.1M1396.44 905.1V910.1M1398.05 905.1V910.1M1399.65 905.1V910.1M1401.26 905.1V913.1M1402.87 905.1V910.1M1404.47 905.1V910.1M1406.08 905.1V910.1M1407.68 905.1V910.1M1409.29 905.1V915.6M1410.90 905.1V910.1M1412.50 905.1V910.1M1414.11 905.1V910.1M1415.71 905.1V910.1M1417.32 905.1V913.1M1418.93 905.1V910.1M1420.53 905.1V910.1M1422.14 905.1V910.1M1423.74 905.1V910.1M1425.35 905.1V915.6M1426.96 905.1V910.1M1428.56 905.1V910.1M1430.17 905.1V910.1M1431.77 905.1V910.1M1433.38 905.1V913.1M1434.99 905.1V910.1M1436.59 905.1V910.1M1438.20 905.1V910.1M1439.80 905.1V910.1M1441.41 905.1V915.6M1443.02 905.1V910.1M1444.62 905.1V910.1M1446.23 905.1V910.1M1447.83 905.1V910.1M1449.44 905.1V913.1M1451.05 905.1V910.1M1452.65 905.1V910.1M1454.26 905.1V910.1M1455.86 905.1V910.1M1457.47 905.1V915.6M1459.08 905.1V910.1M1460.68 905.1V910.1M1462.29 905.1V910.1M1463.89 905.1V910.1M1465.50 905.1V913.1M1467.11 905.1V910.1M1468.71 905.1V910.1M1470.32 905.1V910.1M1471.92 905.1V910.1M1473.53 905.1V915.6M1475.14 905.1V910.1M1476.74 905.1V910.1M1478.35 905.1V910.1M1479.95 905.1V910.1M1481.56 905.1V913.1M1483.17 905.1V910.1M1484.77 905.1V910.1M1486.38 905.1V910.1M1487.98 905.1V910.1M1489.59 905.1V915.6M1491.20 905.1V910.1M1492.80 905.1V910.1M1494.41 905.1V910.1M1496.01 905.1V910.1M1497.62 905.1V913.1M1499.23 905.1V910.1M1500.83 905.1V910.1M1502.44 905.1V910.1M1504.04 905.1V910.1M1505.65 905.1V915.6M1507.26 905.1V910.1M1508.86 905.1V910.1M1510.47 905.1V910.1M1512.07 905.1V910.1M1513.68 905.1V913.1M1515.29 905.1V910.1M1516.89 905.1V910.1M1518.50 905.1V910.1M1520.10 905.1V910.1M1521.71 905.1V915.6M1523.32 905.1V910.1M1524.92 905.1V910.1M1526.53 905.1V910.1M1528.13 905.1V910.1M1529.74 905.1V913.1M1531.35 905.1V910.1M1532.95 905.1V910.1M1534.56 905.1V910.1M1536.16 905.1V910.1M1537.77 905.1V915.6M1539.38 905.1V910.1M1540.98 905.1V910.1M1542.59 905.1V910.1M1544.19 905.1V910.1M1545.80 905.1V913.1M1547.41 905.1V910.1M1549.01 905.1V910.1M1550.62 905.1V910.1M1552.22 905.1V910.1M1553.83 905.1V915.6M1555.44 905.1V910.1M1557.04 905.1V910.1M1558.65 905.1V910.1M1560.25 905.1V910.1M1561.86 905.1V913.1M1563.47 905.1V910.1M1565.07 905.1V910.1M1566.68 905.1V910.1M1568.28 905.1V910.1M1569.89 905.1V915.6M1571.50 905.1V910.1M1573.10 905.1V910.1M1574.71 905.1V910.1M1576.31 905.1V910.1M1577.92 905.1V913.1M1579.53 905.1V910.1M1581.13 905.1V910.1M1582.74 905.1V910.1M1584.34 905.1V910.1M1585.95 905.1V915.6M1587.56 905.1V910.1M1589.16 905.1V910.1M1590.77 905.1V910.1M1592.37 905.1V910.1M1593.98 905.1V913.1M1595.59 905.1V910.1M1597.19 905.1V910.1M1598.80 905.1V910.1M1600.40 905.1V910.1M1602.01 905.1V915.6M1603.62 905.1V910.1M1605.22 905.1V910.1M1606.83 905.1V910.1M1608.43 905.1V910.1M1610.04 905.1V913.1M1611.65 905.1V910.1M1613.25 905.1V910.1M1614.86 905.1V910.1M1616.46 905.1V910.1M1618.07 905.1V915.6M1619.68 905.1V910.1M1621.28 905.1V910.1M1622.89 905.1V910.1M1624.49 905.1V910.1M1626.10 905.1V913.1M1627.71 905.1V910.1M1629.31 905.1V910.1M1630.92 905.1V910.1M1632.52 905.1V910.1M1634.13 905.1V915.6M1635.74 905.1V910.1M1637.34 905.1V910.1M1638.95 905.1V910.1M1640.55 905.1V910.1M1642.16 905.1V913.1M1643.77 905.1V910.1M1645.37 905.1V910.1M1646.98 905.1V910.1M1648.58 905.1V910.1M1650.19 905.1V915.6M1651.80 905.1V910.1M1653.40 905.1V910.1M1655.01 905.1V910.1M1656.61 905.1V910.1M1658.22 905.1V913.1M1659.83 905.1V910.1M1661.43 905.1V910.1M1663.04 905.1V910.1M1664.64 905.1V910.1M1666.25 905.1V915.6M1667.86 905.1V910.1M1669.46 905.1V910.1M1671.07 905.1V910.1M1672.67 905.1V910.1M1674.28 905.1V913.1M1675.89 905.1V910.1M1677.49 905.1V910.1M1679.10 905.1V910.1M1680.70 905.1V910.1M1682.31 905.1V915.6M1683.92 905.1V910.1M1685.52 905.1V910.1M1687.13 905.1V910.1M1688.73 905.1V910.1M1690.34 905.1V913.1M1691.95 905.1V910.1M1693.55 905.1V910.1M1695.16 905.1V910.1M1696.76 905.1V910.1M1698.37 905.1V915.6M1699.98 905.1V910.1M1701.58 905.1V910.1M1703.19 905.1V910.1M1704.79 905.1V910.1M1706.40 905.1V913.1M1708.01 905.1V910.1M1709.61 905.1V910.1M1711.22 905.1V910.1M1712.82 905.1V910.1M1714.43 905.1V915.6M1716.04 905.1V910.1M1717.64 905.1V910.1M1719.25 905.1V910.1M1720.85 905.1V910.1M1722.46 905.1V913.1M1724.07 905.1V910.1M1725.67 905.1V910.1M1727.28 905.1V910.1M1728.88 905.1V910.1M1730.49 905.1V915.6M1732.10 905.1V910.1M1733.70 905.1V910.1M1735.31 905.1V910.1M1736.91 905.1V910.1M1738.52 905.1V913.1M1740.13 905.1V910.1M1741.73 905.1V910.1M1743.34 905.1V910.1M1744.94 905.1V910.1M1746.55 905.1V915.6" stroke="#6b5d00" stroke-width="0.55" fill="none" opacity="0.75"/>
<g font-family="Liberation Sans" font-weight="bold" font-size="6.6" fill="#1a1600" text-anchor="middle"><text x="1264.8" y="923.3">0</text><text x="1280.8" y="923.3">1</text><text x="1296.9" y="923.3">2</text><text x="1312.9" y="923.3">3</text><text x="1329.0" y="923.3">4</text><text x="1345.0" y="923.3">5</text><text x="1361.1" y="923.3">6</text><text x="1377.2" y="923.3">7</text><text x="1393.2" y="923.3">8</text><text x="1409.3" y="923.3">9</text><text x="1425.3" y="923.3">10</text><text x="1441.4" y="923.3">11</text><text x="1457.5" y="923.3">12</text><text x="1473.5" y="923.3">13</text><text x="1489.6" y="923.3">14</text><text x="1505.7" y="923.3">15</text><text x="1521.7" y="923.3">16</text><text x="1537.8" y="923.3">17</text><text x="1553.8" y="923.3">18</text><text x="1569.9" y="923.3">19</text><text x="1586.0" y="923.3">20</text><text x="1602.0" y="923.3">21</text><text x="1618.1" y="923.3">22</text><text x="1634.1" y="923.3">23</text><text x="1650.2" y="923.3">24</text><text x="1666.2" y="923.3">25</text><text x="1682.3" y="923.3">26</text><text x="1698.4" y="923.3">27</text><text x="1714.4" y="923.3">28</text><text x="1730.5" y="923.3">29</text><text x="1746.5" y="923.3">30</text></g>
<path d="M1265.10 968.5V960.5M1270.11 968.5V964.7M1275.12 968.5V964.7M1280.12 968.5V964.7M1285.13 968.5V964.7M1290.14 968.5V964.7M1295.14 968.5V964.7M1300.15 968.5V964.7M1305.16 968.5V960.5M1310.17 968.5V964.7M1315.17 968.5V964.7M1320.18 968.5V964.7M1325.19 968.5V964.7M1330.20 968.5V964.7M1335.20 968.5V964.7M1340.21 968.5V964.7M1345.22 968.5V960.5M1350.23 968.5V964.7M1355.23 968.5V964.7M1360.24 968.5V964.7M1365.25 968.5V964.7M1370.26 968.5V964.7M1375.26 968.5V964.7M1380.27 968.5V964.7M1385.28 968.5V960.5M1390.29 968.5V964.7M1395.29 968.5V964.7M1400.30 968.5V964.7M1405.31 968.5V964.7M1410.32 968.5V964.7M1415.32 968.5V964.7M1420.33 968.5V964.7M1425.34 968.5V960.5M1430.35 968.5V964.7M1435.36 968.5V964.7M1440.36 968.5V964.7M1445.37 968.5V964.7M1450.38 968.5V964.7M1455.38 968.5V964.7M1460.39 968.5V964.7M1465.40 968.5V960.5M1470.41 968.5V964.7M1475.41 968.5V964.7M1480.42 968.5V964.7M1485.43 968.5V964.7M1490.44 968.5V964.7M1495.44 968.5V964.7M1500.45 968.5V964.7M1505.46 968.5V960.5M1510.47 968.5V964.7M1515.47 968.5V964.7M1520.48 968.5V964.7M1525.49 968.5V964.7M1530.50 968.5V964.7M1535.50 968.5V964.7M1540.51 968.5V964.7M1545.52 968.5V960.5M1550.53 968.5V964.7M1555.53 968.5V964.7M1560.54 968.5V964.7M1565.55 968.5V964.7M1570.56 968.5V964.7M1575.57 968.5V964.7M1580.57 968.5V964.7M1585.58 968.5V960.5M1590.59 968.5V964.7M1595.59 968.5V964.7M1600.60 968.5V964.7M1605.61 968.5V964.7M1610.62 968.5V964.7M1615.62 968.5V964.7M1620.63 968.5V964.7M1625.64 968.5V960.5M1630.65 968.5V964.7M1635.65 968.5V964.7M1640.66 968.5V964.7M1645.67 968.5V964.7M1650.68 968.5V964.7M1655.68 968.5V964.7M1660.69 968.5V964.7M1665.70 968.5V960.5M1670.71 968.5V964.7M1675.71 968.5V964.7M1680.72 968.5V964.7M1685.73 968.5V964.7M1690.74 968.5V964.7M1695.74 968.5V964.7M1700.75 968.5V964.7M1705.76 968.5V960.5M1710.77 968.5V964.7M1715.77 968.5V964.7M1720.78 968.5V964.7M1725.79 968.5V964.7M1730.80 968.5V964.7M1735.80 968.5V964.7M1740.81 968.5V964.7M1745.82 968.5V960.5" stroke="#4a4000" stroke-width="0.8" fill="none"/>
<g font-family="Liberation Sans" font-weight="bold" font-size="6.6" fill="#1a1600" text-anchor="middle"><text transform="translate(1265.1 953) rotate(180)">12</text><text transform="translate(1305.2 953) rotate(180)">11</text><text transform="translate(1345.2 953) rotate(180)">10</text><text transform="translate(1385.3 953) rotate(180)">9</text><text transform="translate(1425.3 953) rotate(180)">8</text><text transform="translate(1465.4 953) rotate(180)">7</text><text transform="translate(1505.5 953) rotate(180)">6</text><text transform="translate(1545.5 953) rotate(180)">5</text><text transform="translate(1585.6 953) rotate(180)">4</text><text transform="translate(1625.6 953) rotate(180)">3</text><text transform="translate(1665.7 953) rotate(180)">2</text><text transform="translate(1705.8 953) rotate(180)">1</text><text transform="translate(1745.8 953) rotate(180)">0</text></g>
<path d="M1283 971V1122M1725 971V1125" stroke="#555" stroke-width="1.3"/>
<path d="M1293.3 1156 V1208 Q1294 1217 1299 1219 L1345 1265 Q1349.6 1267 1349.6 1260 V1210" fill="none" stroke="#76757a" stroke-width="4.6" stroke-linejoin="round"/>
<path d="M1293.3 1156 V1208 Q1294 1217 1299 1219 L1345 1265 Q1349.6 1267 1349.6 1260 V1210" fill="none" stroke="#b9b9bd" stroke-width="1.6" stroke-linejoin="round"/>
<path d="M1715 1156 V1208 Q1714 1217 1709 1219 L1663 1265 Q1658.6 1267 1658.6 1260 V1210" fill="none" stroke="#76757a" stroke-width="4.6" stroke-linejoin="round"/>
<path d="M1715 1156 V1208 Q1714 1217 1709 1219 L1663 1265 Q1658.6 1267 1658.6 1260 V1210" fill="none" stroke="#b9b9bd" stroke-width="1.6" stroke-linejoin="round"/>
<path d="M1447.3 1243 V1281" fill="none" stroke="#76757a" stroke-width="4.6" stroke-linejoin="round"/>
<path d="M1447.3 1243 V1281" fill="none" stroke="#b9b9bd" stroke-width="1.6" stroke-linejoin="round"/>
<path d="M1560 1243 V1281" fill="none" stroke="#76757a" stroke-width="4.6" stroke-linejoin="round"/>
<path d="M1560 1243 V1281" fill="none" stroke="#b9b9bd" stroke-width="1.6" stroke-linejoin="round"/>
<rect x="1347.5" y="1030.0" width="4.2" height="20.0" fill="#8a8a8f"/>
<rect x="1656.5" y="1030.0" width="4.2" height="20.0" fill="#8a8a8f"/>
<rect x="1444.9" y="996.0" width="4.2" height="14.0" fill="#8a8a8f"/>
<rect x="1557.9" y="996.0" width="4.2" height="14.0" fill="#8a8a8f"/>
<rect x="1288.5" y="1147" width="7" height="13" fill="#6a6a6e"/><rect x="1711.5" y="1080" width="6" height="12" fill="#7a7a7e"/>
<ellipse cx="1503.4" cy="1119" rx="218.5" ry="125.5" fill="none" stroke="#8c8c90" stroke-width="5"/>
<ellipse cx="1503.4" cy="1119" rx="218.5" ry="125.5" fill="none" stroke="#e6e6e9" stroke-width="2.6"/>
<path d="M1717.5 1119.0L1704.4 1118.6M1716.7 1129.6L1703.6 1128.7M1714.3 1140.1L1701.3 1138.6M1710.2 1150.5L1697.5 1148.5M1704.6 1160.7L1692.3 1158.1M1697.5 1170.5L1685.6 1167.4M1688.8 1180.0L1677.5 1176.3M1678.8 1189.0L1668.1 1184.8M1667.4 1197.4L1657.5 1192.8M1654.8 1205.3L1645.6 1200.2M1641.1 1212.4L1632.7 1207.0M1626.2 1218.9L1618.9 1213.1M1610.5 1224.6L1604.1 1218.5M1593.9 1229.6L1588.6 1223.2M1576.7 1233.6L1572.4 1227.0M1558.9 1236.8L1555.8 1230.1M1540.6 1239.1L1538.7 1232.2M1522.1 1240.5L1521.4 1233.6M1503.5 1241.0L1503.9 1234.0M1484.8 1240.5L1486.4 1233.6M1466.3 1239.1L1469.1 1232.2M1448.1 1236.8L1452.0 1230.1M1430.2 1233.6L1435.3 1227.0M1413.0 1229.6L1419.2 1223.2M1396.4 1224.6L1403.6 1218.5M1380.7 1218.9L1388.9 1213.1M1365.9 1212.4L1375.0 1207.0M1352.1 1205.3L1362.1 1200.2M1339.5 1197.4L1350.3 1192.8M1328.1 1189.0L1339.7 1184.8M1318.1 1180.0L1330.3 1176.3M1309.5 1170.5L1322.2 1167.4M1302.3 1160.7L1315.5 1158.1M1296.7 1150.5L1310.2 1148.5M1292.7 1140.1L1306.4 1138.6M1290.2 1129.6L1304.2 1128.7M1289.4 1119.0L1303.4 1118.6M1290.2 1108.3L1304.2 1108.5M1292.7 1097.8L1306.4 1098.6M1296.7 1087.4L1310.2 1088.7M1302.3 1077.2L1315.5 1079.1M1309.5 1067.4L1322.2 1069.8M1318.1 1057.9L1330.3 1060.9M1328.1 1048.9L1339.7 1052.4M1339.5 1040.5L1350.3 1044.4M1352.1 1032.6L1362.1 1037.0M1365.9 1025.5L1375.0 1030.2M1380.7 1019.0L1388.9 1024.1M1396.4 1013.3L1403.6 1018.7M1413.0 1008.3L1419.2 1014.0M1430.2 1004.3L1435.3 1010.2M1448.1 1001.1L1452.0 1007.1M1466.3 998.8L1469.1 1005.0M1484.8 997.4L1486.4 1003.6M1503.5 996.9L1503.9 1003.2M1522.1 997.4L1521.4 1003.6M1540.6 998.8L1538.7 1005.0M1558.9 1001.1L1555.8 1007.1M1576.7 1004.3L1572.4 1010.2M1593.9 1008.3L1588.6 1014.0M1610.5 1013.3L1604.1 1018.7M1626.2 1019.0L1618.9 1024.1M1641.1 1025.5L1632.7 1030.2M1654.8 1032.6L1645.6 1037.0M1667.4 1040.5L1657.5 1044.4M1678.8 1048.9L1668.1 1052.4M1688.8 1057.9L1677.5 1060.9M1697.5 1067.4L1685.6 1069.8M1704.6 1077.2L1692.3 1079.1M1710.2 1087.4L1697.5 1088.7M1714.3 1097.8L1701.3 1098.6M1716.7 1108.3L1703.6 1108.5" stroke="#a6804e" stroke-width="3" stroke-linecap="round"/>
<ellipse cx="1504" cy="1118.5" rx="195.6" ry="112.5" fill="#636264"/>
<g transform="translate(1407.5 1101)"><path d="M1.5 10 Q15 -3 30 5" fill="none" stroke="#f2cf1e" stroke-width="3"/><path d="M2 16 Q5 10 13 11 Q20 8 29 10 Q27 21 13 21 Q2 21 2 16Z" fill="#1fc3dc"/><text x="23.6" y="16.3" font-family="Liberation Sans" font-size="19.8" fill="#1fc3dc" stroke="#1fc3dc" stroke-width="0.4" letter-spacing="3.0" transform="scale(1.5 1)">skybo<tspan fill="#f0cc20" stroke="#f0cc20">u</tspan>nd</text></g>
<circle cx="1287.9" cy="1366.6" r="22.8" fill="#fff" stroke="#f8cb1c" stroke-width="2"/>
<text x="1287.9" y="1378.6" font-family="Liberation Sans" font-size="34" fill="#22bdd6" text-anchor="middle">1</text>
<circle cx="1370.9" cy="1328.3" r="22.8" fill="#fff" stroke="#f8cb1c" stroke-width="2"/>
<text x="1370.9" y="1340.3" font-family="Liberation Sans" font-size="34" fill="#22bdd6" text-anchor="middle">2</text>
<circle cx="1433.6" cy="1421.1" r="22.8" fill="#fff" stroke="#f8cb1c" stroke-width="2"/>
<text x="1433.6" y="1433.1" font-family="Liberation Sans" font-size="34" fill="#22bdd6" text-anchor="middle">3</text>
<circle cx="1586.4" cy="1326.0" r="22.8" fill="#fff" stroke="#f8cb1c" stroke-width="2"/>
<text x="1586.4" y="1338.0" font-family="Liberation Sans" font-size="34" fill="#22bdd6" text-anchor="middle">4</text>
<circle cx="1649.0" cy="1414.9" r="22.8" fill="#fff" stroke="#f8cb1c" stroke-width="2"/>
<text x="1649.0" y="1426.9" font-family="Liberation Sans" font-size="34" fill="#22bdd6" text-anchor="middle">5</text>
<circle cx="1724.0" cy="1356.6" r="22.8" fill="#fff" stroke="#f8cb1c" stroke-width="2"/>
<text x="1724.0" y="1368.6" font-family="Liberation Sans" font-size="34" fill="#22bdd6" text-anchor="middle">6</text>
<circle cx="1735" cy="1399.3" r="12.3" fill="none" stroke="#3cc3d9" stroke-width="1.5"/>
<path d="M1747.5 1393.2H1773" stroke="#3cc3d9" stroke-width="1.5"/>
<circle cx="1862" cy="1394.4" r="88.5" fill="#fff" stroke="#3cc3d9" stroke-width="1.2"/>
<g><path d="M1838.1 1440 v10 q21 10 42.3 0 v-10z" fill="#1d387c"/><path d="M1817 1408 v27 q0 11 42 11 q42 0 42 -11 v-27z" fill="#213d86"/><ellipse cx="1859" cy="1408" rx="42" ry="11" fill="#2c4e9e"/><path d="M1872 1362 h12 q22 0 22 20 v22 q0 13 -14 13 h-12 v-9 h9 q6 0 6 -6 v-18 q0 -11 -11 -11 h-12z" fill="#2a4a98"/><path d="M1836.9 1366 h43 v48 q-21 6 -43 0z" fill="#203c84"/><path d="M1820.7 1358 Q1820.7 1332 1858 1332 Q1895.3 1332 1895.3 1358 Q1895.3 1371 1858 1372 Q1820.7 1371 1820.7 1358Z" fill="#2a4b9c"/><path d="M1822 1362 Q1858 1376 1894 1362 Q1894 1371 1858 1372 Q1822 1371 1822 1362Z" fill="#1f3a80"/><ellipse cx="1858" cy="1351" rx="26" ry="6" fill="#6a8ad0" opacity="0.35"/></g>
<path transform="translate(160 521)" d="M64 48 Q67 39 72 35.5 Q76 37 74 56 L68.5 103" fill="none" stroke="#fff" stroke-width="11" stroke-linecap="round" stroke-linejoin="round"/>
<path transform="translate(160 994)" d="M50 54 Q62 36 80 33 Q90 34 86 46 L52 88 Q46 97 59 96 L88 91" fill="none" stroke="#fff" stroke-width="9.5" stroke-linecap="round" stroke-linejoin="round"/>
<path transform="translate(160 1462)" d="M48 53 L78 35 Q88 36 84 45 L62 63 Q62 69 70 70 L86 74 Q96 79 88 87 Q72 96 52 95 Q40 93 50 81" fill="none" stroke="#fff" stroke-width="9.5" stroke-linecap="round" stroke-linejoin="round"/>
<circle cx="1835.5" cy="209" r="112.3" fill="#fff"/>
<path d="M1750.5 185.0 A91.7 91.7 0 0 1 1921.6 169.1 L1899.1 180.0 A66.7 66.7 0 0 0 1774.6 191.5 Z" fill="#fbd21c"/>
<circle cx="1755" cy="211.2" r="15.7" fill="#fbd21c"/>
<path d="M1766 264 A92 92 0 0 0 1931.5 214 Q1932 208 1925 205 Q1900 196 1880.4 215.5 Q1862 198 1840 205 Q1823 212 1823 236.5 Q1805 225 1790 232 Q1772 240 1766 264Z" fill="#23c1d9"/>
</svg>
</body></html>
